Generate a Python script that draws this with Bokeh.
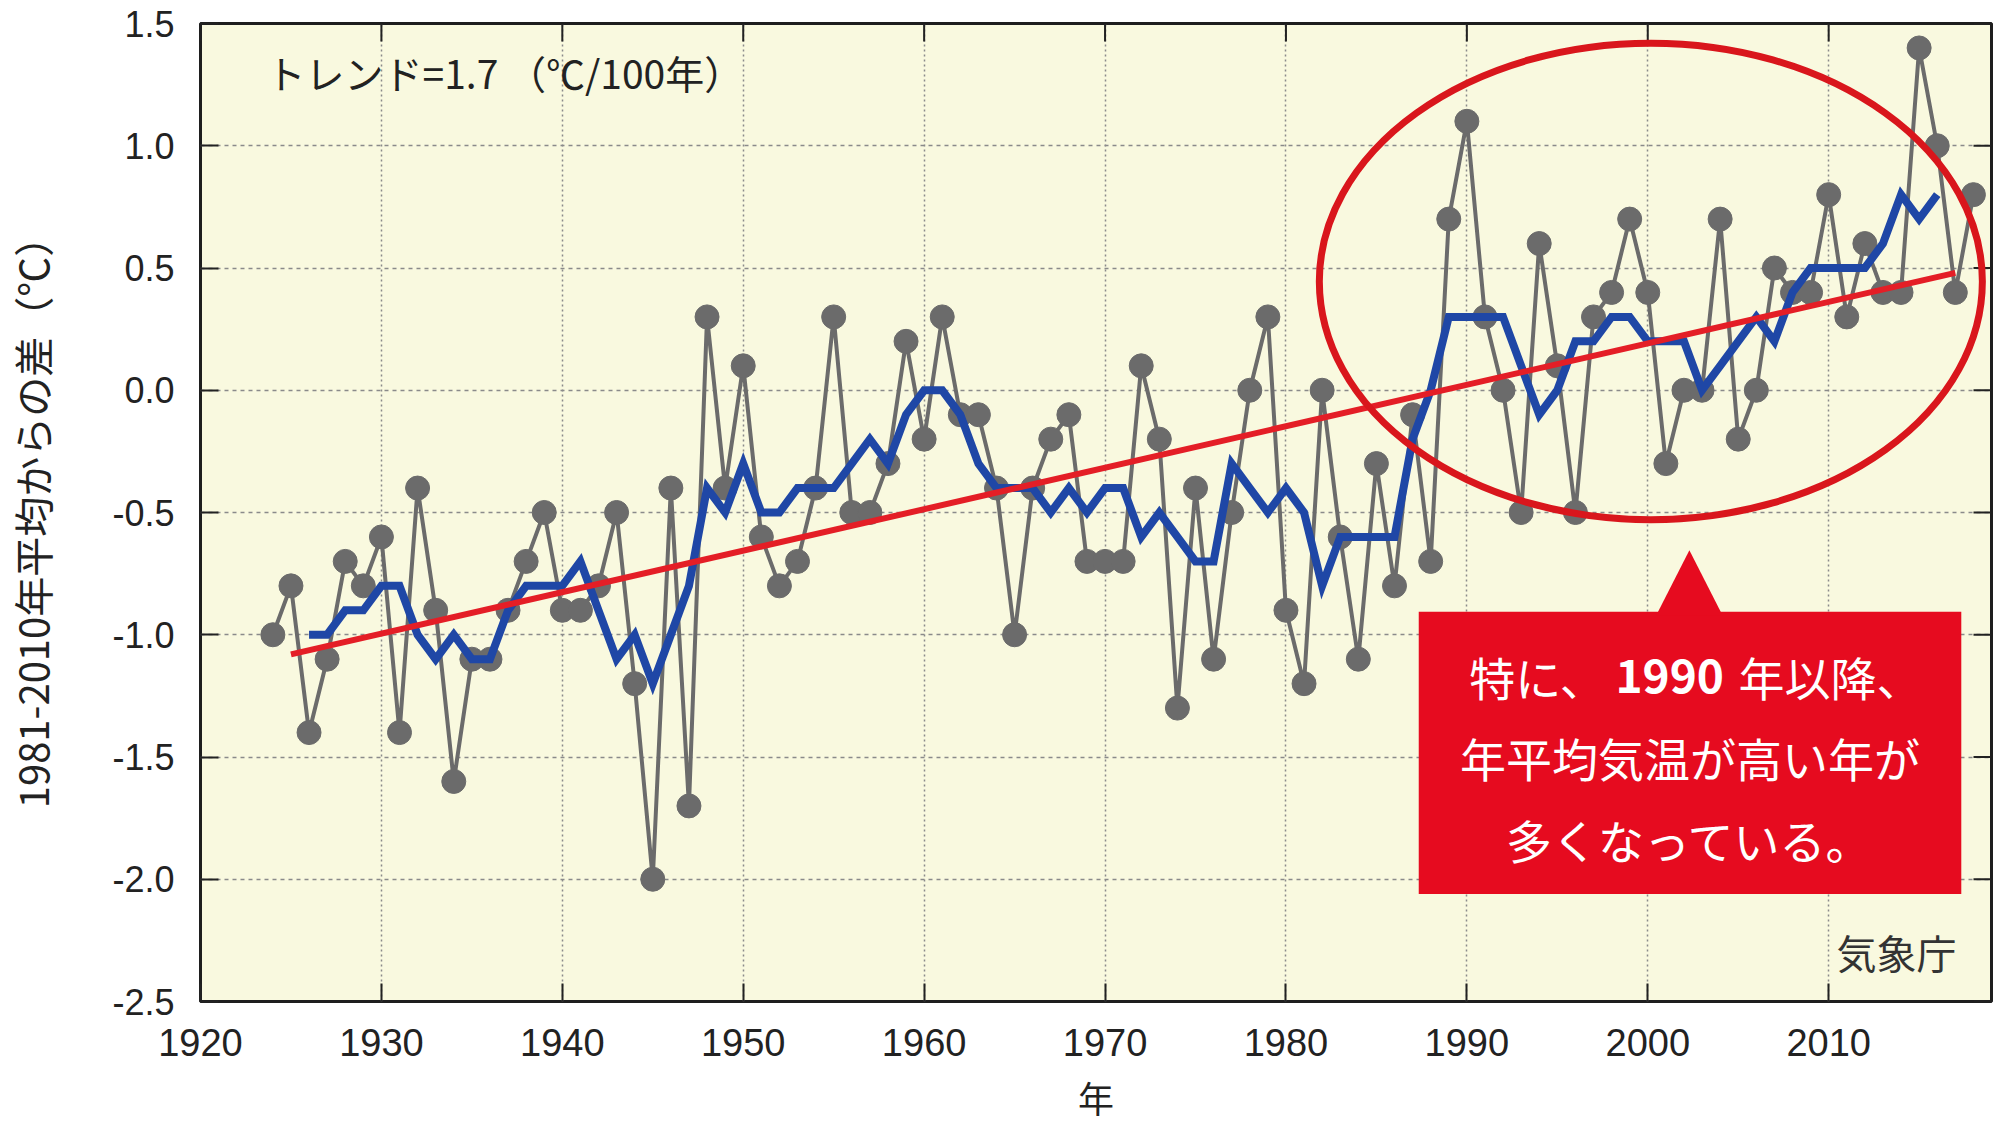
import math
from bokeh.plotting import figure
from bokeh.models import FixedTicker, PrintfTickFormatter, Label, Range1d
from bokeh.embed import file_html
from bokeh.resources import INLINE

# ---------------- data ----------------
years = list(range(1924, 2019))
anomaly = [-1.0, -0.8, -1.4, -1.1, -0.7, -0.8, -0.6, -1.4, -0.4, -0.9,
           -1.6, -1.1, -1.1, -0.9, -0.7, -0.5, -0.9, -0.9, -0.8, -0.5,
           -1.2, -2.0, -0.4, -1.7, 0.3, -0.4, 0.1, -0.6, -0.8, -0.7,
           -0.4, 0.3, -0.5, -0.5, -0.3, 0.2, -0.2, 0.3, -0.1, -0.1,
           -0.4, -1.0, -0.4, -0.2, -0.1, -0.7, -0.7, -0.7, 0.1, -0.2,
           -1.3, -0.4, -1.1, -0.5, 0.0, 0.3, -0.9, -1.2, 0.0, -0.6,
           -1.1, -0.3, -0.8, -0.1, -0.7, 0.7, 1.1, 0.3, 0.0, -0.5,
           0.6, 0.1, -0.5, 0.3, 0.4, 0.7, 0.4, -0.3, 0.0, 0.0,
           0.7, -0.2, 0.0, 0.5, 0.4, 0.4, 0.8, 0.3, 0.6, 0.4,
           0.4, 1.4, 1.0, 0.4, 0.8]

smooth_years = list(range(1926, 2017))
smooth_vals = [-1.0, -1.0, -0.9, -0.9, -0.8, -0.8, -1.0, -1.1, -1.0, -1.1,
               -1.1, -0.9, -0.8, -0.8, -0.8, -0.7, -0.9, -1.1, -1.0, -1.2,
               -1.0, -0.8, -0.4, -0.5, -0.3, -0.5, -0.5, -0.4, -0.4, -0.4,
               -0.3, -0.2, -0.3, -0.1, 0.0, 0.0, -0.1, -0.3, -0.4, -0.4,
               -0.4, -0.5, -0.4, -0.5, -0.4, -0.4, -0.6, -0.5, -0.6, -0.7,
               -0.7, -0.3, -0.4, -0.5, -0.4, -0.5, -0.8, -0.6, -0.6, -0.6,
               -0.6, -0.2, 0.0, 0.3, 0.3, 0.3, 0.3, 0.1, -0.1, 0.0,
               0.2, 0.2, 0.3, 0.3, 0.2, 0.2, 0.2, 0.0, 0.1, 0.2,
               0.3, 0.2, 0.4, 0.5, 0.5, 0.5, 0.5, 0.6, 0.8, 0.7,
               0.8]

trend_years = [1925, 2017]
trend_vals = [-1.08, 0.48]

x_ticks = [1920, 1930, 1940, 1950, 1960, 1970, 1980, 1990, 2000, 2010]
y_ticks = [-2.5, -2.0, -1.5, -1.0, -0.5, 0.0, 0.5, 1.0, 1.5]

trend_text = "トレンド=1.7 （℃/100年）"
source_text = "気象庁"
y_label = "1981-2010年平均からの差（℃）"
x_label = "年"
callout_line1 = ["特に、", "1990", "年以降、"]
callout_line2 = "年平均気温が高い年が"
callout_line3 = "多くなっている。"

# ---------------- figure ----------------
JP = "Noto Sans CJK JP"
NUM = "Liberation Sans"
GREY = "#6b6b6b"
BLUE = "#1f47a6"
RED = "#e41e26"
BOXRED = "#e60b1f"
X0, X1 = 1920, 2019
Y0, Y1 = -2.5, 1.5

p = figure(frame_width=1791, frame_height=978,
           x_range=Range1d(X0, X1), y_range=Range1d(Y0, Y1),
           output_backend="svg", toolbar_location=None,
           min_border_left=199, min_border_top=23, min_border_right=2,
           min_border_bottom=100)
p.background_fill_color = "#f9f9df"
p.border_fill_color = "white"
p.outline_line_color = "#1e1e1e"
p.outline_line_width = 3

# axes
for ax in (p.xaxis[0], p.yaxis[0]):
    ax.axis_line_color = None
    ax.major_tick_in = 18
    ax.major_tick_out = 0
    ax.major_tick_line_color = "#222222"
    ax.major_tick_line_width = 2
    ax.minor_tick_line_color = None
    ax.major_label_text_font = NUM
    ax.major_label_text_color = "#222222"
    ax.axis_label_text_font = JP
    ax.axis_label_text_font_style = "normal"
    ax.axis_label_text_color = "#222222"

p.xaxis.ticker = FixedTicker(ticks=x_ticks)
p.yaxis.ticker = FixedTicker(ticks=y_ticks)
p.yaxis.formatter = PrintfTickFormatter(format="%.1f")
p.xaxis.major_label_text_font_size = "38px"
p.yaxis.major_label_text_font_size = "36px"
p.xaxis.major_label_standoff = 27
p.yaxis.major_label_standoff = 26
p.xaxis.axis_label = x_label
p.yaxis.axis_label = y_label
p.xaxis.axis_label_text_font_size = "36px"
p.yaxis.axis_label_text_font_size = "40px"
p.xaxis.axis_label_standoff = 12
p.yaxis.axis_label_standoff = 48

# grids
p.xgrid.grid_line_color = "#8a8a8a"
p.xgrid.grid_line_dash = "2 3"
p.xgrid.grid_line_width = 1.5
p.ygrid.grid_line_color = "#8a8a8a"
p.ygrid.grid_line_dash = "4 4"
p.ygrid.grid_line_width = 1.5

# mirrored inward ticks on the top and right edges
p.ray(x=x_ticks, y=[Y1] * len(x_ticks), length=18, length_units="screen",
      angle=-math.pi / 2, line_color="#222222", line_width=2)
p.ray(x=[X1] * len(y_ticks), y=y_ticks, length=18, length_units="screen",
      angle=math.pi, line_color="#222222", line_width=2)

# data
p.line(years, anomaly, line_color=GREY, line_width=4)
p.scatter(years, anomaly, size=24, fill_color=GREY, line_color=GREY)
p.line(smooth_years, smooth_vals, line_color=BLUE, line_width=8, line_join="miter")
p.line(trend_years, trend_vals, line_color=RED, line_width=6)

# highlight ellipse (annotation)
p.ellipse(x=[2000.17], y=[0.445], width=[36.65], height=[1.95],
          fill_color=None, line_color="#d9161c", line_width=7)

# callout box (annotation)
p.quad(left=[1987.34], right=[2017.33], top=[-0.906], bottom=[-2.06],
       fill_color=BOXRED, line_color=None)
p.patch([2000.47, 2004.13, 2002.3], [-0.92, -0.92, -0.654],
        fill_color=BOXRED, line_color=None)

def lab(x, y, text, size, color, font=JP, align="left", style="normal"):
    p.add_layout(Label(x=x, y=y, text=text, text_font=font,
                       text_font_size=size, text_color=color,
                       text_align=align, text_baseline="middle",
                       text_font_style=style))

lab(1990.13, -1.167, callout_line1[0], "46px", "white")
lab(1998.21, -1.167, callout_line1[1], "46px", "white", style="bold")
lab(2005.01, -1.167, callout_line1[2], "46px", "white")
lab(2002.33, -1.502, callout_line2, "46px", "white", align="center")
lab(2002.33, -1.834, callout_line3, "46px", "white", align="center")

lab(1923.65, 1.302, trend_text, "39px", "#222222")
lab(2010.43, -2.298, source_text, "40px", "#333333")

open("out.html", "w").write(file_html(p, INLINE))
